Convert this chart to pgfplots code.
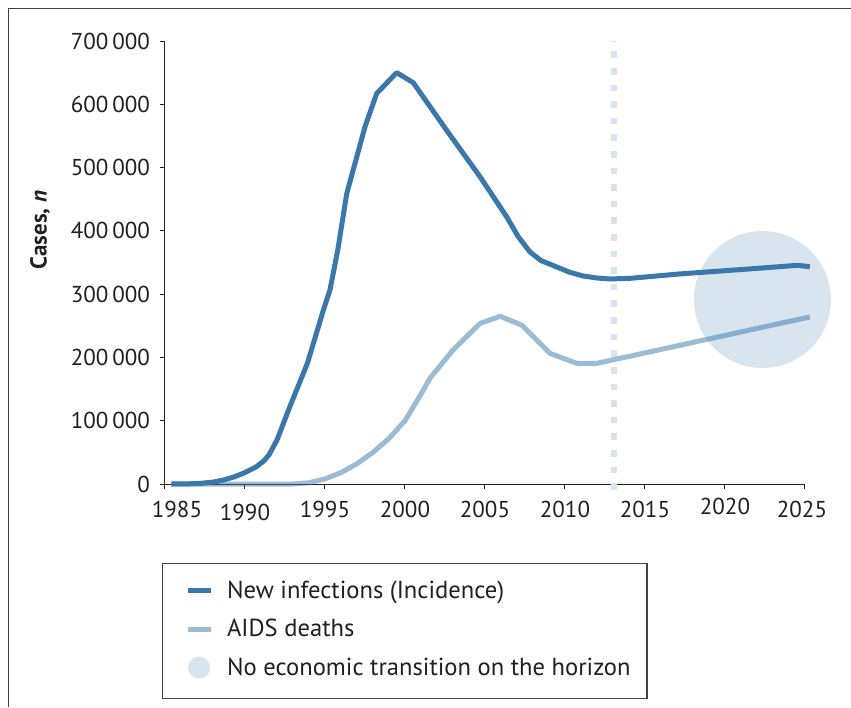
\documentclass[border=0pt]{standalone}
\usepackage{pgfplots}
\pgfplotsset{compat=1.18}
\usepackage{fontspec}
\setmainfont{PT Sans}
\definecolor{mblue}{HTML}{3A77AB}
\colorlet{lblue}{mblue!50}
\colorlet{cblue}{mblue!20}
\definecolor{txt}{HTML}{231F20}
\begin{document}
\begin{tikzpicture}[font=\fontsize{11.5}{13.8}\selectfont, text=txt]
\begin{axis}[
  scale only axis, width=320pt, height=221.5pt,
  xmin=1985, xmax=2025, ymin=0, ymax=700000,
  clip=false, scaled y ticks=false,
  axis x line*=bottom, axis y line*=left,
  axis line style={txt, line width=0.5pt, -},
  tick style={txt, line width=0.5pt},
  tick align=outside, major tick length=2.5pt,
  xtick={1985,1990,...,2025},
  xticklabels={\hspace*{12pt}1985,\raisebox{-1.5pt}[\height]{1990},1995,2000,2005,2010,2015,\raisebox{1.5pt}[\height]{2020},2025\hspace*{3pt}},
  ytick={0,100000,...,700000},
  yticklabels={0,100\,000,200\,000,300\,000,400\,000,500\,000,600\,000,700\,000},
  xticklabel style={yshift=-2.3pt},
  yticklabel style={xshift=-1.5pt},
  ylabel={\textbf{Cases, \textit{n}}},
  ylabel style={at={(axis description cs:-0.1953,0.5734)}, anchor=center, rotate=0},
  legend style={at={(axis description cs:-0.0047,-0.1783)}, anchor=north west,
    draw=txt!85, line width=0.6pt, inner xsep=0pt, inner ysep=3.875pt,
    row sep=0pt, column sep=7pt,
    nodes={inner sep=0pt, text height=13.375pt, text depth=5.875pt},
    font=\fontsize{12.3}{14}\selectfont},
  legend cell align=left,
]
% circle
\addplot[forget plot, only marks, mark=*, mark size=34.25pt, color=mblue, mark options={draw opacity=0, fill=mblue, fill opacity=0.2}] coordinates {(2022.34,291500)};
% dashed line
\addplot[forget plot, cblue, line width=3pt, dash pattern=on 3.3pt off 5pt] coordinates {(2013.06,-9000) (2013.06,700000)};
% AIDS deaths
\addplot[forget plot, mblue, draw opacity=0.5, line width=2.5pt, line join=round] coordinates {
(1985.4,0) (1993.0,0) (1994.0,2000) (1995.0,8000) (1996.0,18000) (1997.0,32000)
(1998.0,50000) (1999.0,72000) (2000.0,100000) (2001.0,142000) (2001.56,167000)
(2003.0,211700) (2004.69,253800) (2005.94,265000) (2007.3,251000) (2009.06,206500)
(2010.73,190700) (2011.98,190700) (2014.06,202000) (2025.3,264000)};
% New infections
\addplot[forget plot, mblue, line width=2.5pt, line join=round] coordinates {
(1985.4,0) (1986.5,300) (1987.2,1000) (1988.0,3000) (1988.6,6000) (1989.3,11000)
(1989.9,17000) (1990.7,27000) (1991.2,37000) (1991.5,46000) (1992.0,69500)
(1992.8,122000) (1993.9,190700) (1994.9,275000) (1995.31,306500) (1995.8,370000)
(1996.36,459000) (1997.5,564500) (1998.23,617000) (1999.48,650000) (2000.52,634000)
(2002.6,559000) (2004.69,485500) (2006.36,422000) (2007.08,390700) (2007.8,367000)
(2008.5,353000) (2009.48,343000) (2010.3,334500) (2011.15,328600) (2012.0,325500)
(2012.8,324000) (2014.06,325000) (2017.2,332000) (2021.4,339600) (2024.5,345500)
(2025.3,343500)};
\addlegendimage{legend image code/.code={\path[draw=none,fill=none] (0pt,0pt) (24pt,0pt); \draw[mblue, line width=2.5pt] (12.5pt,0pt) -- (24pt,0pt);}}
\addlegendentry{\makebox[210pt][l]{New infections (Incidence)}}
\addlegendimage{legend image code/.code={\path[draw=none,fill=none] (0pt,0pt) (24pt,0pt); \draw[lblue, line width=2.5pt] (12.5pt,0pt) -- (24pt,0pt);}}
\addlegendentry{\makebox[210pt][l]{AIDS deaths}}
\addlegendimage{legend image code/.code={\path[draw=none,fill=none] (0pt,-11.6pt) (24pt,0pt); \path[fill=cblue, draw=none] (18.25pt,0pt) circle (5.5pt);}}
\addlegendentry{\makebox[210pt][l]{No economic transition on the horizon}}
\end{axis}
\draw[txt!85, line width=0.5pt] (-78pt,-111.5pt) -- (-78pt,237.5pt) -- (343pt,237.5pt);
\pgfresetboundingbox
\useasboundingbox (-82.5pt,-111.5pt) rectangle (343pt,242pt);
\end{tikzpicture}
\end{document}
